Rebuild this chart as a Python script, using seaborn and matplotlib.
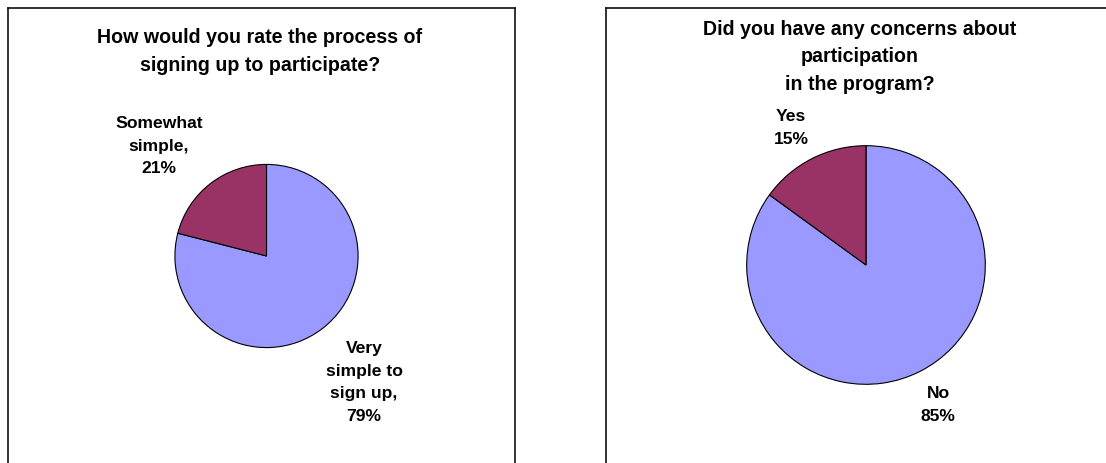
import matplotlib
matplotlib.use("Agg")
import matplotlib.pyplot as plt
import seaborn as sns

# Survey results
signup_categories = ["Very\nsimple to\nsign up,", "Somewhat\nsimple,"]
signup_values = [79, 21]
concern_categories = ["No", "Yes"]
concern_values = [85, 15]

titles = [
    "How would you rate the process of\nsigning up to participate?",
    "Did you have any concerns about\nparticipation\nin the program?",
]

sns.set_theme(style="white")
plt.rcParams["font.family"] = ["Liberation Sans", "DejaVu Sans"]
plt.rcParams["font.weight"] = "bold"
plt.rcParams["text.color"] = "black"

palette = sns.color_palette(["#9999FF", "#993366"])

W, H = 1106, 463
fig = plt.figure(figsize=(W / 100, H / 100), dpi=100)
fig.patch.set_facecolor("white")

TITLE_SIZE = 14.1
LABEL_SIZE = 12.6
TITLE_SPACING = 1.58
LABEL_SPACING = 1.66


def fx(px):
    return px / W


def fy(py):
    return 1 - py / H


def panel(x0, x1, right_open=False):
    ax = fig.add_axes([fx(x0), -0.1, fx(x1 - x0), fy(8) + 0.1])
    ax.set_xticks([])
    ax.set_yticks([])
    ax.set_facecolor("white")
    for sp in ax.spines.values():
        sp.set_color("#111111")
        sp.set_linewidth(1.2)
    ax.spines["bottom"].set_visible(False)
    if right_open:
        ax.spines["right"].set_visible(False)
    return ax


def pie(cx, cy, r, values):
    ax = fig.add_axes([fx(cx - r), fy(cy + r), fx(2 * r), (2 * r) / H])
    ax.pie(values, colors=palette, startangle=90, counterclock=False,
           radius=1.0, wedgeprops=dict(edgecolor="black", linewidth=0.8))
    ax.set_xlim(-1.01, 1.01)
    ax.set_ylim(-1.01, 1.01)
    ax.set_aspect("auto")
    ax.axis("off")
    return ax


def label(x, y, text, size=LABEL_SIZE, spacing=LABEL_SPACING):
    fig.text(fx(x), fy(y), text, ha="center", va="center", color="black",
             fontsize=size, fontweight="bold", linespacing=spacing)


# Left panel
panel(8, 515)
pie(266.5, 256, 92.5, signup_values)
label(260, 51.5, titles[0], TITLE_SIZE, TITLE_SPACING)
label(364, 382.5, f"{signup_categories[0]}\n{signup_values[0]}%")
label(159, 146, f"{signup_categories[1]}\n{signup_values[1]}%")

# Right panel
panel(606, 1110, right_open=True)
pie(866, 265, 120.5, concern_values)
label(860, 57, titles[1], TITLE_SIZE, TITLE_SPACING)
label(938, 405, f"{concern_categories[0]}\n{concern_values[0]}%")
label(791, 128, f"{concern_categories[1]}\n{concern_values[1]}%")

fig.savefig("out.png", dpi=100, facecolor="white")
